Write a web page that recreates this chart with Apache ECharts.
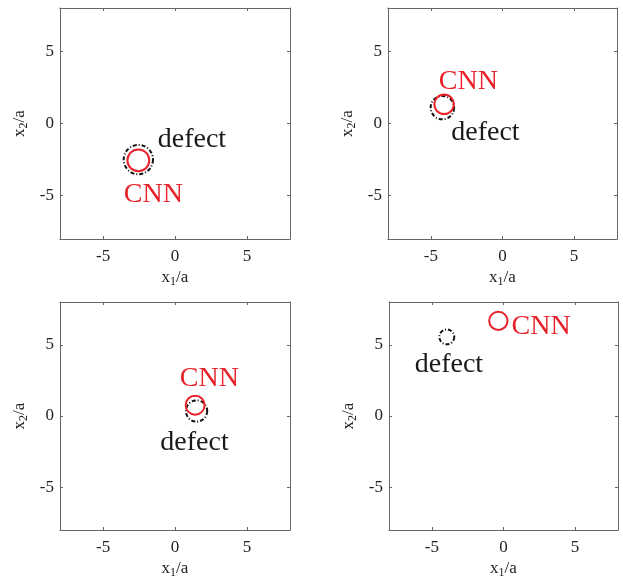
<!DOCTYPE html>
<html><head><meta charset="utf-8">
<script src="https://cdn.jsdelivr.net/npm/echarts@6/dist/echarts.min.js"></script>
<style>html,body{margin:0;padding:0;background:#fff}#c{width:623px;height:580px}</style>
</head><body><div id="c"></div>
<script>
// Data: [x1/a, x2/a, radius/a] for each of the four panels
const defectCircles = [[-2.55, -2.5, 1.02], [-4.2, 1.1, 0.82], [1.5, 0.35, 0.74], [-3.96, 5.55, 0.52]];
const cnnCircles    = [[-2.55, -2.55, 0.76], [-4.08, 1.33, 0.68], [1.4, 0.76, 0.66], [-0.36, 6.68, 0.64]];
// Text annotation anchors (left, middle) in data coordinates
const defectLabels = [[-1.2, -1.1], [-3.58, -0.62], [-1.02, -1.85], [-6.2, 3.62]];
const cnnLabels    = [[-3.56, -4.95], [-4.45, 2.9], [0.33, 2.6], [0.56, 6.3]];
const tickValues = [-5, 0, 5];
const axisMin = -8, axisMax = 8;

const grids = [
  {left: 60, top: 8, width: 230, height: 231},
  {left: 388, top: 8, width: 229, height: 231},
  {left: 60, top: 302, width: 230, height: 229},
  {left: 389, top: 302, width: 229, height: 229}
];
const FONT = '"Liberation Serif", "Times New Roman", serif';
const lineCol = '#666';
const txtCol = '#222';
const red = '#e8212b';

const xAxes = [], yAxes = [], series = [];
function nameRich() {
  return {
    x: {fontFamily: FONT, fontSize: 17, color: txtCol, lineHeight: 17, verticalAlign: 'top'},
    s: {fontFamily: FONT, fontSize: 12, color: txtCol, lineHeight: 12, padding: [9, 0, 0, 0]}
  };
}
grids.forEach((g, i) => {
  const common = {
    gridIndex: i, type: 'value', min: axisMin, max: axisMax,
    splitLine: {show: false},
    axisLine: {show: true, onZero: false, lineStyle: {color: lineCol, width: 1}},
    axisTick: {show: true, inside: true, length: 3, customValues: tickValues, lineStyle: {color: lineCol}},
  };
  xAxes.push(Object.assign({}, common, {
    position: 'bottom',
    axisLabel: {customValues: tickValues, fontFamily: FONT, fontSize: 17, color: txtCol, margin: 9},
    name: '{x|x}{s|1}{x|/a}', nameLocation: 'middle', nameGap: 30,
    nameTextStyle: {rich: nameRich()}
  }));
  xAxes.push(Object.assign({}, common, {position: 'top', axisLabel: {show: false}}));
  yAxes.push(Object.assign({}, common, {
    position: 'left',
    axisLabel: {customValues: tickValues, fontFamily: FONT, fontSize: 17, color: txtCol, margin: 6},
    name: '{x|x}{s|2}{x|/a}', nameLocation: 'middle', nameGap: 32, nameRotate: 90,
    nameTextStyle: {rich: nameRich()}
  }));
  yAxes.push(Object.assign({}, common, {position: 'right', axisLabel: {show: false}}));

  const circleRender = (color, dash) => function (params, api) {
    const c = api.coord([api.value(0), api.value(1)]);
    const r = api.size([api.value(2), 0])[0];
    return {
      type: 'circle',
      shape: {cx: c[0], cy: c[1], r: r},
      style: {fill: 'none', stroke: color, lineWidth: 2, lineDash: dash}
    };
  };
  series.push({
    type: 'custom', xAxisIndex: 2 * i, yAxisIndex: 2 * i, silent: true,
    renderItem: circleRender('#111', [4, 2, 1, 2]),
    data: [defectCircles[i]], z: 2
  });
  series.push({
    type: 'custom', xAxisIndex: 2 * i, yAxisIndex: 2 * i, silent: true,
    renderItem: circleRender(red, null),
    data: [cnnCircles[i]], z: 3
  });
  const textRender = (text, color) => function (params, api) {
    const c = api.coord([api.value(0), api.value(1)]);
    return {
      type: 'text',
      style: {x: c[0], y: c[1], text: text, fill: color, font: '28px ' + FONT,
              align: 'left', verticalAlign: 'middle'}
    };
  };
  series.push({
    type: 'custom', xAxisIndex: 2 * i, yAxisIndex: 2 * i, silent: true,
    renderItem: textRender('defect', '#1a1a1a'), data: [defectLabels[i]], z: 4
  });
  series.push({
    type: 'custom', xAxisIndex: 2 * i, yAxisIndex: 2 * i, silent: true,
    renderItem: textRender('CNN', red), data: [cnnLabels[i]], z: 4
  });
});

const chart = echarts.init(document.getElementById('c'), null, {renderer: 'canvas'});
chart.setOption({
  animation: false,
  backgroundColor: '#fff',
  grid: grids,
  xAxis: xAxes,
  yAxis: yAxes,
  series: series
});
</script></body></html>
